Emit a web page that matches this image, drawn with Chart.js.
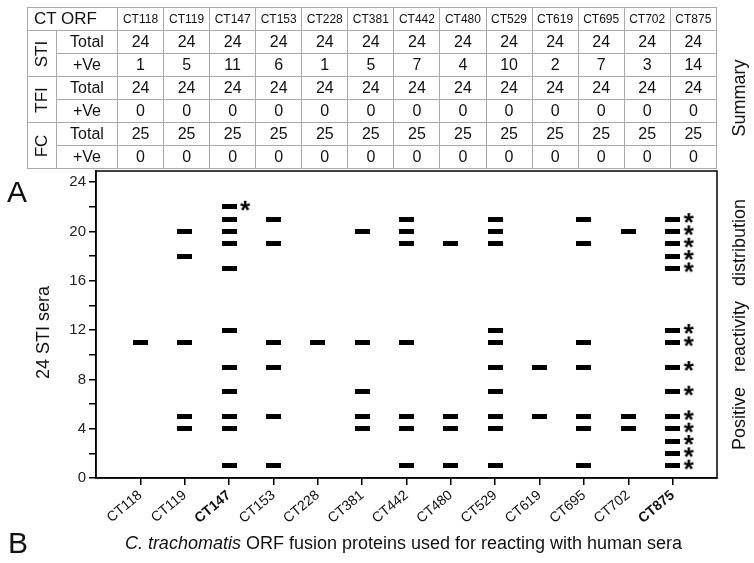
<!DOCTYPE html>
<html>
<head>
<meta charset="utf-8">
<script src="https://cdn.jsdelivr.net/npm/chart.js@4.4.1/dist/chart.umd.min.js"></script>
<style>
  html, body { margin: 0; padding: 0; background: #fff; }
  #wrap { position: relative; width: 754px; height: 563px; overflow: hidden; }
  #chart { position: absolute; left: 0; top: 0; }
  #summary {
    position: absolute; left: 27px; top: 7px; width: 690px;
    border-collapse: collapse; table-layout: fixed;
    font-family: 'Liberation Sans', Arial, Helvetica, sans-serif; color: #111;
    border: 1.5px solid #333;
  }
  #summary tr { height: 23px; }
  #summary td {
    border: 1px solid #aaa; text-align: center; padding: 0;
    font-size: 16px; line-height: 18px; height: 22px; overflow: hidden;
  }
  #summary td.hdr { font-size: 12px; }
  #summary td.orf { font-size: 17px; text-align: left; padding-left: 6px; }
  #summary td.grp { font-size: 17px; }
  #summary td.grp span { display: inline-block; transform: rotate(-90deg); }
</style>
</head>
<body>
<div id="wrap">
  <canvas id="chart" width="754" height="563"></canvas>
  <table id="summary"></table>
</div>
<script>
  'use strict';

  // ORFs tested
  const categories = ['CT118', 'CT119', 'CT147', 'CT153', 'CT228', 'CT381', 'CT442', 'CT480', 'CT529', 'CT619', 'CT695', 'CT702', 'CT875'];
  const boldCategories = ['CT147', 'CT875'];

  // summary table
  const stiTotal = [24, 24, 24, 24, 24, 24, 24, 24, 24, 24, 24, 24, 24];
  const stiPositive = [1, 5, 11, 6, 1, 5, 7, 4, 10, 2, 7, 3, 14];
  const tfiTotal = [24, 24, 24, 24, 24, 24, 24, 24, 24, 24, 24, 24, 24];
  const tfiPositive = [0, 0, 0, 0, 0, 0, 0, 0, 0, 0, 0, 0, 0];
  const fcTotal = [25, 25, 25, 25, 25, 25, 25, 25, 25, 25, 25, 25, 25];
  const fcPositive = [0, 0, 0, 0, 0, 0, 0, 0, 0, 0, 0, 0, 0];

  // which of the 24 STI sera reacted with each ORF
  const positiveSera = [
    [11],
    [20, 18, 11, 5, 4],
    [22, 21, 20, 19, 17, 12, 9, 7, 5, 4, 1],
    [21, 19, 11, 9, 5, 1],
    [11],
    [20, 11, 7, 5, 4],
    [21, 20, 19, 11, 5, 4, 1],
    [19, 5, 4, 1],
    [21, 20, 19, 12, 11, 9, 7, 5, 4, 1],
    [9, 5],
    [21, 19, 11, 9, 5, 4, 1],
    [20, 5, 4],
    [21, 20, 19, 18, 17, 12, 11, 9, 7, 5, 4, 3, 2, 1]
  ];
  // marked with an asterisk
  const starredSera = [
    [], [], [22], [], [], [], [], [], [], [], [], [],
    [21, 20, 19, 18, 17, 12, 11, 9, 7, 5, 4, 3, 2, 1]
  ];

  const yTicksMax = 24;
  const FONT = "'Liberation Sans', Arial, Helvetica, sans-serif";

  // --- table ---
  function buildTable() {
    const tbl = document.getElementById('summary');
    let html = '<colgroup><col style="width:29px"><col style="width:61px">' +
      categories.map(() => '<col>').join('') + '</colgroup>';
    html += '<tr><td class="orf" colspan="2">CT ORF</td>' +
      categories.map(c => `<td class="hdr">${c}</td>`).join('') + '</tr>';
    const groups = [['STI', stiTotal, stiPositive], ['TFI', tfiTotal, tfiPositive], ['FC', fcTotal, fcPositive]];
    groups.forEach(([name, tot, pos]) => {
      html += `<tr><td class="grp" rowspan="2"><span>${name}</span></td><td>Total</td>` +
        tot.map(v => `<td>${v}</td>`).join('') + '</tr>';
      html += '<tr><td>+Ve</td>' + pos.map(v => `<td>${v}</td>`).join('') + '</tr>';
    });
    tbl.innerHTML = html;
  }
  buildTable();

  // --- point images ---
  function makeDash() {
    const c = document.createElement('canvas');
    c.width = 15; c.height = 5;
    const g = c.getContext('2d');
    g.fillStyle = '#000';
    g.fillRect(0, 0, 15, 5);
    return c;
  }
  function makeStar() {
    const c = document.createElement('canvas');
    c.width = 50; c.height = 30;
    const g = c.getContext('2d');
    g.fillStyle = '#000';
    g.font = 'bold 26px ' + FONT;
    g.textAlign = 'center';
    g.textBaseline = 'alphabetic';
    g.fillText('*', 41, 15 + 12);
    return c;
  }

  const dashPoints = [];
  positiveSera.forEach((list, i) => list.forEach(y => dashPoints.push({ x: i + 1, y })));
  const starPoints = [];
  starredSera.forEach((list, i) => list.forEach(y => starPoints.push({ x: i + 1, y })));

  const extraText = {
    id: 'extraText',
    afterDraw(chart) {
      const { ctx, chartArea: a } = chart;
      ctx.save();
      // frame
      ctx.strokeStyle = '#000';
      ctx.lineWidth = 1.5;
      ctx.strokeRect(a.left, a.top, a.right - a.left, a.bottom - a.top);
      ctx.fillStyle = '#111';

      // panel letters
      ctx.font = '30px ' + FONT;
      ctx.textAlign = 'left';
      ctx.textBaseline = 'alphabetic';
      ctx.fillText('A', 7, a.top + 31);
      ctx.fillText('B', 8, 553);

      // x title, italic genus part
      const rest = ' ORF fusion proteins used for reacting with human sera';
      ctx.font = 'italic 18px ' + FONT;
      const wI = ctx.measureText('C. trachomatis').width;
      ctx.font = '18px ' + FONT;
      const wR = ctx.measureText(rest).width;
      const cx = (a.left + a.right) / 2 - 3;
      const x0 = cx - (wI + wR) / 2;
      ctx.font = 'italic 18px ' + FONT;
      ctx.fillText('C. trachomatis', x0, 549);
      ctx.font = '18px ' + FONT;
      ctx.fillText(rest, x0 + wI, 549);

      // rotated labels
      ctx.textAlign = 'center';
      ctx.textBaseline = 'middle';
      const vtext = (t, x, y) => {
        ctx.save();
        ctx.translate(x, y);
        ctx.rotate(-Math.PI / 2);
        ctx.fillText(t, 0, 0);
        ctx.restore();
      };
      vtext('24 STI sera', 44, (a.top + a.bottom) / 2 + 8);
      vtext('Positive   reactivity   distribution', 740, (a.top + a.bottom) / 2);
      vtext('Summary', 740, 98);
      ctx.restore();
    }
  };

  new Chart(document.getElementById('chart'), {
    type: 'scatter',
    data: {
      datasets: [
        { label: 'Positive', data: dashPoints, pointStyle: makeDash(), pointRadius: 6 },
        { label: 'Starred', data: starPoints, pointStyle: makeStar(), pointRadius: 6 }
      ]
    },
    options: {
      responsive: false,
      animation: false,
      layout: { padding: { top: 171, right: 37, left: 0, bottom: 0 } },
      plugins: { legend: { display: false }, tooltip: { enabled: false } },
      scales: {
        x: {
          type: 'linear',
          min: 0,
          max: categories.length + 1,
          afterFit: (s) => { s.height = 85; },
          afterBuildTicks: (s) => { s.ticks = s.ticks.filter(t => t.value >= 1 && t.value <= categories.length); },
          grid: { display: true, drawOnChartArea: false, drawTicks: true, tickLength: 7, color: '#000', lineWidth: 1.5 },
          border: { display: true, color: '#000', width: 1.5 },
          ticks: {
            stepSize: 1,
            autoSkip: false,
            minRotation: 40,
            maxRotation: 40,
            padding: 2,
            color: '#111',
            font: (c) => ({
              family: FONT,
              size: 14,
              weight: c.tick && boldCategories.includes(categories[c.tick.value - 1]) ? 'bold' : 'normal'
            }),
            callback: (v) => categories[v - 1] || ''
          }
        },
        y: {
          min: 0,
          max: 24.9,
          afterFit: (s) => { s.width = 96; },
          grid: { display: true, drawOnChartArea: false, drawTicks: true, tickLength: 7, color: '#000', lineWidth: 1.5 },
          border: { display: true, color: '#000', width: 1.5 },
          ticks: {
            stepSize: 2,
            includeBounds: false,
            padding: 3,
            color: '#222',
            font: { family: FONT, size: 15 },
            callback: (v) => (v % 4 === 0 && v <= yTicksMax ? String(v) : '')
          }
        }
      }
    },
    plugins: [extraText]
  });
</script>
</body>
</html>
